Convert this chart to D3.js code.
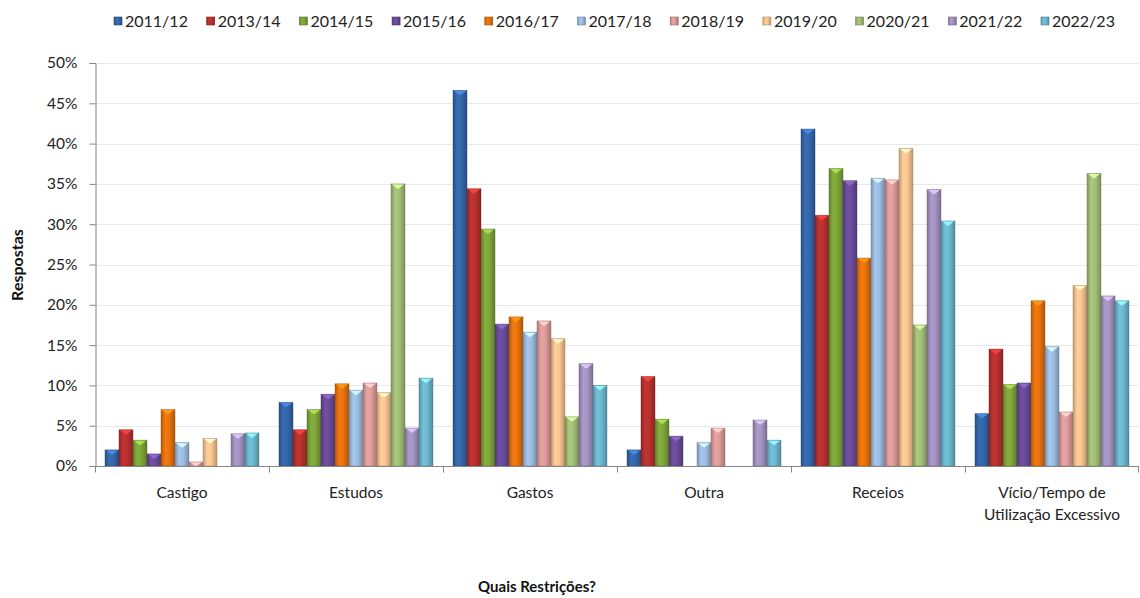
<!DOCTYPE html>
<html><head><meta charset="utf-8">
<script src="https://cdn.jsdelivr.net/npm/d3@7"></script>
<style>
html,body{margin:0;padding:0;background:#fff;}
svg{display:block;font-family:Lato,"Open Sans",sans-serif;}
</style></head>
<body>
<svg id="chart" width="1140" height="598"></svg>
<script>
const categories = ["Castigo","Estudos","Gastos","Outra","Receios","Vício/Tempo de Utilização Excessivo"];
const categoryLines = [["Castigo"],["Estudos"],["Gastos"],["Outra"],["Receios"],["Vício/Tempo de","Utilização Excessivo"]];
const seriesNames = ["2011/12","2013/14","2014/15","2015/16","2016/17","2017/18","2018/19","2019/20","2020/21","2021/22","2022/23"];
const v2011 = [2.0, 7.9, 46.6, 2.0, 41.8, 6.5];
const v2013 = [4.5, 4.5, 34.4, 11.1, 31.1, 14.5];
const v2014 = [3.2, 7.0, 29.4, 5.8, 36.9, 10.1];
const v2015 = [1.5, 8.9, 17.6, 3.7, 35.4, 10.3];
const v2016 = [7.0, 10.2, 18.5, 0, 25.8, 20.5];
const v2017 = [2.9, 9.4, 16.6, 2.9, 35.7, 14.8];
const v2018 = [0.5, 10.3, 18.0, 4.7, 35.5, 6.7];
const v2019 = [3.4, 9.1, 15.8, 0, 39.4, 22.4];
const v2020 = [0, 35.0, 6.1, 0, 17.5, 36.3];
const v2021 = [4.0, 4.7, 12.7, 5.7, 34.3, 21.1];
const v2022 = [4.1, 10.9, 10.0, 3.2, 30.4, 20.5];
const seriesValues = [v2011,v2013,v2014,v2015,v2016,v2017,v2018,v2019,v2020,v2021,v2022];
const yTicks = [0,5,10,15,20,25,30,35,40,45,50];
const colors = ["#3567AB","#B8312F","#7FA63A","#6B4C9A","#E8730E","#9DBDE2","#DE9C9A","#FBC592","#A3BF78","#A493C2","#6DB8D0"];

const svg = d3.select("#chart");
const pLeft = 95, pRight = 1139, pTop = 63, pBottom = 466;
const x0 = d3.scaleBand().domain(categories).range([pLeft, pRight]).padding(0);
const x1 = d3.scaleBand().domain(seriesNames).range([10, x0.bandwidth() - 10]).padding(0);
const y = d3.scaleLinear().domain([0, 50]).range([pBottom, pTop]);
const axisColor = "#868686";

// gradients
const defs = svg.append("defs");
colors.forEach((c, i) => {
  const g = defs.append("linearGradient").attr("id", "g" + i).attr("x1", "0").attr("x2", "1").attr("y1", "0").attr("y2", "0");
  const base = d3.color(c);
  g.append("stop").attr("offset", "0%").attr("stop-color", base.darker(0.7));
  g.append("stop").attr("offset", "30%").attr("stop-color", base.brighter(0.15));
  g.append("stop").attr("offset", "60%").attr("stop-color", base);
  g.append("stop").attr("offset", "100%").attr("stop-color", base.darker(0.8));
});

// gridlines
svg.append("g").selectAll("line").data(yTicks.filter(t => t > 0)).join("line")
  .attr("x1", pLeft).attr("x2", pRight)
  .attr("y1", d => Math.round(y(d)) + 0.5).attr("y2", d => Math.round(y(d)) + 0.5)
  .attr("stroke", "#E8E8E8").attr("stroke-width", 1);

// bars
const groups = svg.append("g").selectAll("g").data(categories).join("g")
  .attr("transform", d => `translate(${x0(d)},0)`);
groups.each(function(cat, ci) {
  const g = d3.select(this);
  seriesNames.forEach((s, si) => {
    const v = seriesValues[si][ci];
    if (!v) return;
    const bx = x1(s), bw = x1.bandwidth();
    const by = y(v), bh = y(0) - y(v);
    g.append("rect").attr("x", bx).attr("y", by).attr("width", bw).attr("height", bh)
      .attr("fill", `url(#g${si})`).attr("stroke", d3.color(colors[si]).darker(1.2)).attr("stroke-opacity", 0.5).attr("stroke-width", 0.8);
    const th = Math.min(5, bh);
    g.append("path")
      .attr("d", `M${bx + 1},${by + 0.5} L${bx + bw - 1},${by + 0.5} L${bx + bw / 2},${by + th} Z`)
      .attr("fill", d3.color(colors[si]).brighter(0.9)).attr("opacity", 0.9);
  });
});

// y axis
const yAxis = d3.axisLeft(y).tickValues(yTicks).tickFormat(d => d + "%").tickSize(6).tickPadding(12);
const yg = svg.append("g").attr("transform", `translate(${pLeft + 0.5},0)`).call(yAxis);
yg.select(".domain").attr("stroke", axisColor);
yg.selectAll(".tick line").attr("stroke", axisColor);
yg.selectAll(".tick text").attr("fill", "#222").style("font-size", "15.5px").style("font-family", "Lato, sans-serif");

// x axis
const xg = svg.append("g").attr("transform", `translate(0,${pBottom + 0.5})`);
xg.append("line").attr("x1", pLeft).attr("x2", pRight).attr("stroke", axisColor);
xg.selectAll("line.tk").data(categories.concat(["end"])).join("line").attr("class", "tk")
  .attr("x1", (d, i) => i < categories.length ? Math.round(x0(d)) + 0.5 : pRight - 0.5)
  .attr("x2", (d, i) => i < categories.length ? Math.round(x0(d)) + 0.5 : pRight - 0.5)
  .attr("y1", 0).attr("y2", 6).attr("stroke", axisColor);
xg.selectAll("text.cl").data(categories).join("text").attr("class", "cl")
  .attr("x", d => x0(d) + x0.bandwidth() / 2)
  .attr("text-anchor", "middle").attr("fill", "#222").style("font-size", "15.5px")
  .each(function(d, i) {
    const t = d3.select(this);
    categoryLines[i].forEach((ln, li) => {
      t.append("tspan").attr("x", x0(d) + x0.bandwidth() / 2).attr("y", 31 + li * 22.5).text(ln);
    });
  });

// axis titles
svg.append("text").attr("transform", "translate(23,265) rotate(-90)").attr("text-anchor", "middle")
  .style("font-size", "16px").style("font-weight", "bold").attr("fill", "#111").text("Respostas");
svg.append("text").attr("x", 537).attr("y", 592).attr("text-anchor", "middle")
  .style("font-size", "15px").style("font-weight", "bold").attr("fill", "#111").text("Quais Restrições?");

// legend
const legend = svg.append("g");
const lx = d3.scalePoint().domain(seriesNames).range([114, 1041]);
seriesNames.forEach((s, i) => {
  const gx = lx(s);
  legend.append("rect").attr("x", gx).attr("y", 17).attr("width", 8).attr("height", 8)
    .attr("fill", `url(#g${i})`).attr("stroke", d3.color(colors[i]).darker(1)).attr("stroke-width", 0.6);
  legend.append("text").attr("x", gx + 11).attr("y", 26.5).attr("fill", "#222")
    .style("font-size", "16px").text(s);
});
</script>
</body></html>
